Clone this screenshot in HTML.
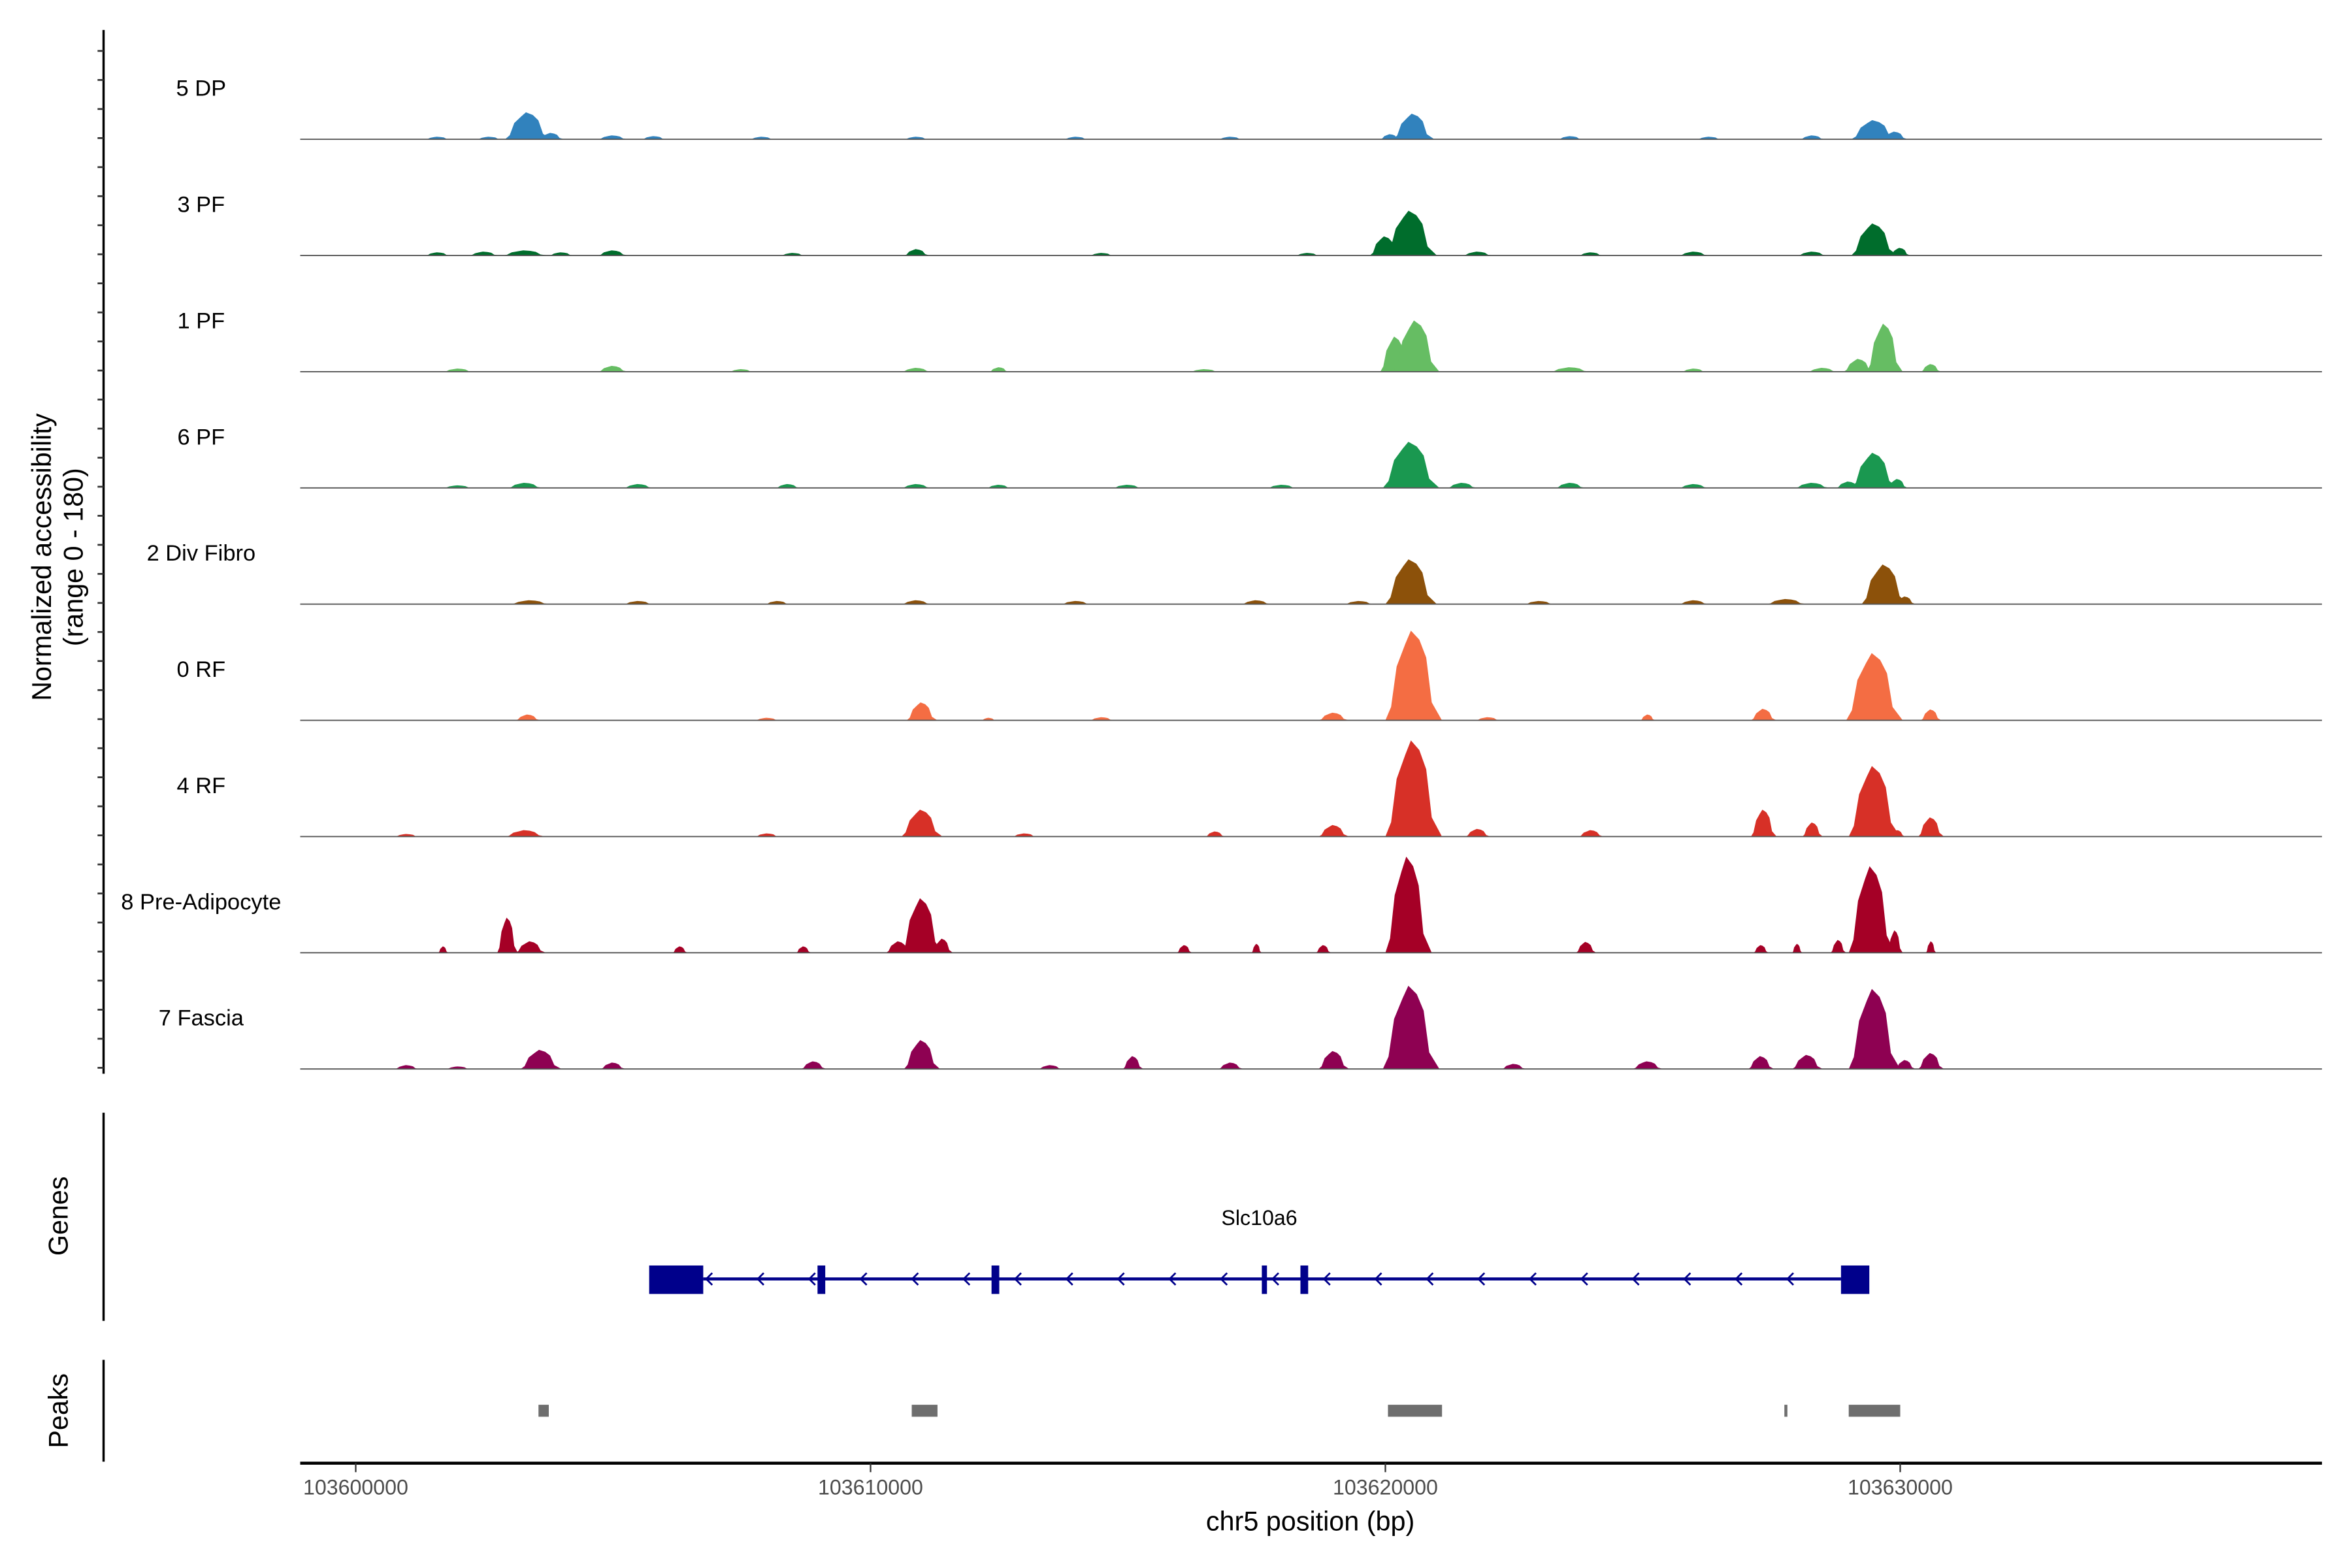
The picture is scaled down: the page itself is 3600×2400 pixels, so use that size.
<!DOCTYPE html>
<html><head><meta charset="utf-8"><style>
html,body{margin:0;padding:0;background:#fff;}
svg{display:block;font-family:"Liberation Sans",sans-serif;}
</style></head><body>
<svg id="chart" width="3600" height="2400" viewBox="0 0 1567 1047" preserveAspectRatio="none" xmlns="http://www.w3.org/2000/svg">
<rect width="1567" height="1047" fill="#fff"/>
<g id="yaxis"></g>
<g id="tracks"></g>
<g id="genes"></g>
<g id="peaks"></g>
<g id="xaxis"></g>
<text transform="translate(34,372) rotate(-90)" text-anchor="middle" font-size="18">Normalized accessibility</text>
<text transform="translate(55,372) rotate(-90)" text-anchor="middle" font-size="18">(range 0 - 180)</text>
<text transform="translate(45,812) rotate(-90)" text-anchor="middle" font-size="18">Genes</text>
<text transform="translate(45,942) rotate(-90)" text-anchor="middle" font-size="18">Peaks</text>
<text x="873" y="1022" text-anchor="middle" font-size="18">chr5 position (bp)</text>
</svg>
<script>
// Data (positions in kb offset from 103600000, heights in normalized accessibility 0-180)
const trackNames = ["5 DP","3 PF","1 PF","6 PF","2 Div Fibro","0 RF","4 RF","8 Pre-Adipocyte","7 Fascia"];
const trackColors = ["#3182bd","#006d2c","#66bd63","#1a9850","#8c510a","#f46d43","#d73027","#a50026","#8e0152"];
const peakCenters = [
 [1.6,2.6,3.35,3.8,5.0,5.8,7.9,10.9,14.0,17.0,20.1,20.55,23.6,26.3,28.3,29.5,29.9],
 [1.6,2.5,3.3,4.0,5.0,8.5,10.9,14.5,18.5,20.0,20.5,21.8,24.0,26.0,28.3,29.5,30.0],
 [2.0,5.0,7.5,10.9,12.5,16.5,20.2,20.6,23.6,26.0,28.5,29.2,29.7,30.6],
 [2.0,3.3,5.5,8.4,10.9,12.5,15.0,18.0,20.5,21.5,23.6,26.0,28.3,29.0,29.5,29.95],
 [3.4,5.5,8.2,10.9,14.0,17.5,19.5,20.5,23.0,26.0,27.8,29.7,30.1],
 [3.35,8.0,11.0,12.3,14.5,19.0,20.55,22.0,25.1,27.35,29.5,29.9,30.6],
 [1.0,3.3,8.0,11.0,13.0,16.7,19.0,20.55,21.8,24.0,27.35,28.3,29.5,29.95,30.6],
 [1.7,2.95,3.4,6.3,8.7,10.55,11.0,11.4,16.1,17.5,18.8,20.45,23.9,27.3,28.0,28.8,29.45,29.9,30.6],
 [1.0,2.0,3.6,5.0,8.9,11.0,13.5,15.1,17.0,19.0,20.5,22.5,25.1,27.3,28.2,29.5,30.1,30.6]
];
const peakHeights = [
 [4,4,42,10,6,5,4,4,4,4,8,40,5,4,6,30,12],
 [5,6,8,5,8,4,10,4,4,30,70,6,5,6,6,50,12],
 [5,9,4,6,7,4,55,80,7,5,6,20,75,12],
 [4,8,6,6,6,5,5,5,72,8,8,6,8,10,55,14],
 [6,5,5,6,5,6,5,70,5,6,8,62,12],
 [9,4,28,4,5,12,140,5,9,18,105,10,17],
 [4,10,5,42,5,8,18,150,12,10,42,22,110,10,30],
 [10,55,18,10,10,18,85,22,12,14,12,150,17,12,14,20,135,35,18],
 [6,4,30,10,12,45,6,20,10,28,130,8,12,20,22,125,14,25]
];
const peakWidths = [
 [0.5,0.5,0.9,0.5,0.6,0.5,0.5,0.5,0.5,0.5,0.4,0.8,0.5,0.5,0.5,0.9,0.5],
 [0.5,0.6,0.9,0.5,0.6,0.5,0.5,0.5,0.5,0.6,1.0,0.6,0.5,0.6,0.6,0.9,0.4],
 [0.6,0.6,0.5,0.6,0.4,0.6,0.6,0.9,0.8,0.5,0.6,0.6,0.7,0.4],
 [0.6,0.7,0.6,0.5,0.6,0.5,0.6,0.6,1.1,0.6,0.6,0.6,0.7,0.5,0.9,0.4],
 [0.8,0.6,0.5,0.6,0.6,0.6,0.6,1.0,0.6,0.6,0.8,0.9,0.4],
 [0.5,0.5,0.6,0.3,0.5,0.6,1.1,0.5,0.3,0.5,1.1,0.3,0.4],
 [0.5,0.8,0.5,0.8,0.5,0.4,0.6,1.1,0.5,0.5,0.5,0.4,1.0,0.3,0.5],
 [0.2,0.4,0.6,0.3,0.3,0.5,0.8,0.4,0.3,0.2,0.3,0.9,0.4,0.3,0.2,0.3,0.9,0.3,0.2],
 [0.5,0.5,0.8,0.5,0.5,0.7,0.5,0.4,0.5,0.6,1.1,0.5,0.6,0.5,0.6,1.0,0.4,0.5]
];
const xTicks = [103600000,103610000,103620000,103630000];
const exonStarts = [5.7,8.97,12.35,17.6,18.35,28.85];
const exonEnds = [6.75,9.12,12.5,17.7,18.5,29.4];
const geneStart = 6.75, geneEnd = 28.85;
const peakStarts = [3.55,10.8,20.05,27.75,29.0];
const peakEnds = [3.75,11.3,21.1,27.8,30.0];

const NS="http://www.w3.org/2000/svg";
function mk(t,a,p){const e=document.createElementNS(NS,t);for(const k in a)e.setAttribute(k,a[k]);p.appendChild(e);return e;}
function xs(kb){return 237+kb*34.3;}
function xsBp(bp){return xs((bp-103600000)/1000);}
const baseY0=93, trackStep=77.6, maxH=77;
function ys(v,base){return base - v/180*maxH;}

const ya=document.getElementById('yaxis');
mk('line',{x1:69,y1:20,x2:69,y2:717,stroke:'#000','stroke-width':1.5},ya);
for(let y=34;y<717;y+=19.4){const t=mk('line',{x1:65,y1:y,x2:69,y2:y,stroke:'#333','stroke-width':1.2},ya);

}

const tg=document.getElementById('tracks');
trackNames.forEach((name,i)=>{
 const base=baseY0+i*trackStep;
 const g=mk('g',{},tg);
 
 
 const lab=mk('text',{x:134,y:base-29,'text-anchor':'middle','font-size':15,fill:'#000'},g);
 lab.textContent=name;
 
 
 peakCenters[i].forEach((c,j)=>{
  const h=peakHeights[i][j], w=peakWidths[i][j];
  const pts=[[c-w/2,0],[c-w*0.4,h*0.15],[c-w*0.3,h*0.6],[c-w*0.15,h*0.85],[c-w*0.05,h],[c+w*0.1,h*0.9],[c+w*0.22,h*0.7],[c+w*0.32,h*0.2],[c+w/2,0]];
  const p=mk('polygon',{points:pts.map(q=>xs(q[0]).toFixed(1)+','+ys(q[1],base).toFixed(1)).join(' '),fill:trackColors[i]},g);
  
  
 });
 const bl=mk('line',{x1:200,y1:base,x2:1547,y2:base,stroke:'#555','stroke-width':0.8},g);
 
 
});

const gg=document.getElementById('genes');
mk('line',{x1:69,y1:743,x2:69,y2:882,stroke:'#000','stroke-width':1.5},gg);
const gl=mk('text',{x:839,y:818,'text-anchor':'middle','font-size':14},gg);gl.textContent='Slc10a6';


const gline=mk('line',{x1:xs(geneStart),y1:854,x2:xs(geneEnd),y2:854,stroke:'#00008b','stroke-width':2},gg);


for(let x=xs(geneStart)+2;x<xs(geneEnd)-5;x+=34.3){
 const a=mk('polyline',{points:`${x+4},850 ${x},854 ${x+4},858`,fill:'none',stroke:'#00008b','stroke-width':1.2},gg);
 
 
}
exonStarts.forEach((s,i)=>{
 const r=mk('rect',{x:xs(s),y:845,width:Math.max(3,xs(exonEnds[i])-xs(s)),height:19,fill:'#00008b'},gg);
 
 
});

const pg=document.getElementById('peaks');
mk('line',{x1:69,y1:908,x2:69,y2:976,stroke:'#000','stroke-width':1.5},pg);
peakStarts.forEach((s,i)=>{
 const r=mk('rect',{x:xs(s),y:938,width:Math.max(2,xs(peakEnds[i])-xs(s)),height:8,fill:'#6e6e6e'},pg);
 
 
});

const xa=document.getElementById('xaxis');
mk('line',{x1:200,y1:977,x2:1547,y2:977,stroke:'#000','stroke-width':2},xa);
xTicks.forEach(v=>{
 const x=xsBp(v);
 const t=mk('line',{x1:x,y1:977,x2:x,y2:983,stroke:'#333','stroke-width':1},xa);
 
 
 const l=mk('text',{x:x,y:998,'text-anchor':'middle','font-size':14,fill:'#4d4d4d'},xa);
 l.textContent=String(v);
 
 
});
</script>
</body></html>
